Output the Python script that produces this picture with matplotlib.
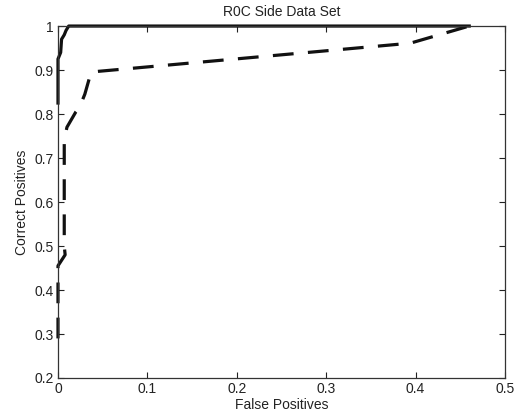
import matplotlib
matplotlib.use('Agg')
import matplotlib.pyplot as plt
import numpy as np

plt.rcParams['font.family'] = ['Liberation Sans', 'DejaVu Sans']

# ROC points
solid_fp = [0.0, 0.0, 0.002, 0.003, 0.004, 0.007, 0.009, 0.012, 0.46]
solid_cp = [0.825, 0.925, 0.935, 0.94, 0.97, 0.98, 0.99, 1.0, 1.0]

dashed_fp = [0.0, 0.0, 0.008, 0.007, 0.007, 0.01, 0.02, 0.024, 0.03, 0.037, 0.045, 0.394, 0.46]
dashed_cp = [0.29, 0.455, 0.48, 0.50, 0.74, 0.77, 0.805, 0.815, 0.845, 0.895, 0.897, 0.961, 1.0]

x_ticks = [0, 0.1, 0.2, 0.3, 0.4, 0.5]
x_labels = ['0', '0.1', '0.2', '0.3', '0.4', '0.5']
y_ticks = [0.2, 0.3, 0.4, 0.5, 0.6, 0.7, 0.8, 0.9, 1.0]
y_labels = ['0.2', '0.3', '0.4', '0.5', '0.6', '0.7', '0.8', '0.9', '1']

fig = plt.figure(figsize=(5.15, 4.18), dpi=100)
ax = fig.add_axes([0.1126, 0.0957, 0.868, 0.842])

ax.plot(dashed_fp, dashed_cp, color='#111111', lw=2.3, dashes=(6.5, 4.5),
        solid_joinstyle='miter', clip_on=False)
ax.plot(solid_fp, solid_cp, color='#111111', lw=2.3, clip_on=False)

ax.set_xlim(0, 0.5)
ax.set_ylim(0.2, 1.0)
ax.set_xticks(x_ticks)
ax.set_xticklabels(x_labels)
ax.set_yticks(y_ticks)
ax.set_yticklabels(y_labels)
ax.tick_params(direction='in', top=True, right=True, length=4, width=0.8,
               labelsize=10, colors='#222222', pad=3)
for s in ax.spines.values():
    s.set_linewidth(0.9)
    s.set_color('#333333')

ax.set_xlabel('False Positives', fontsize=10, labelpad=1, color='#222222')
ax.set_ylabel('Correct Positives', fontsize=10, labelpad=4, color='#222222')
ax.set_title('R0C Side Data Set', fontsize=10, pad=7, color='#222222')

fig.savefig('out.png', dpi=100)
